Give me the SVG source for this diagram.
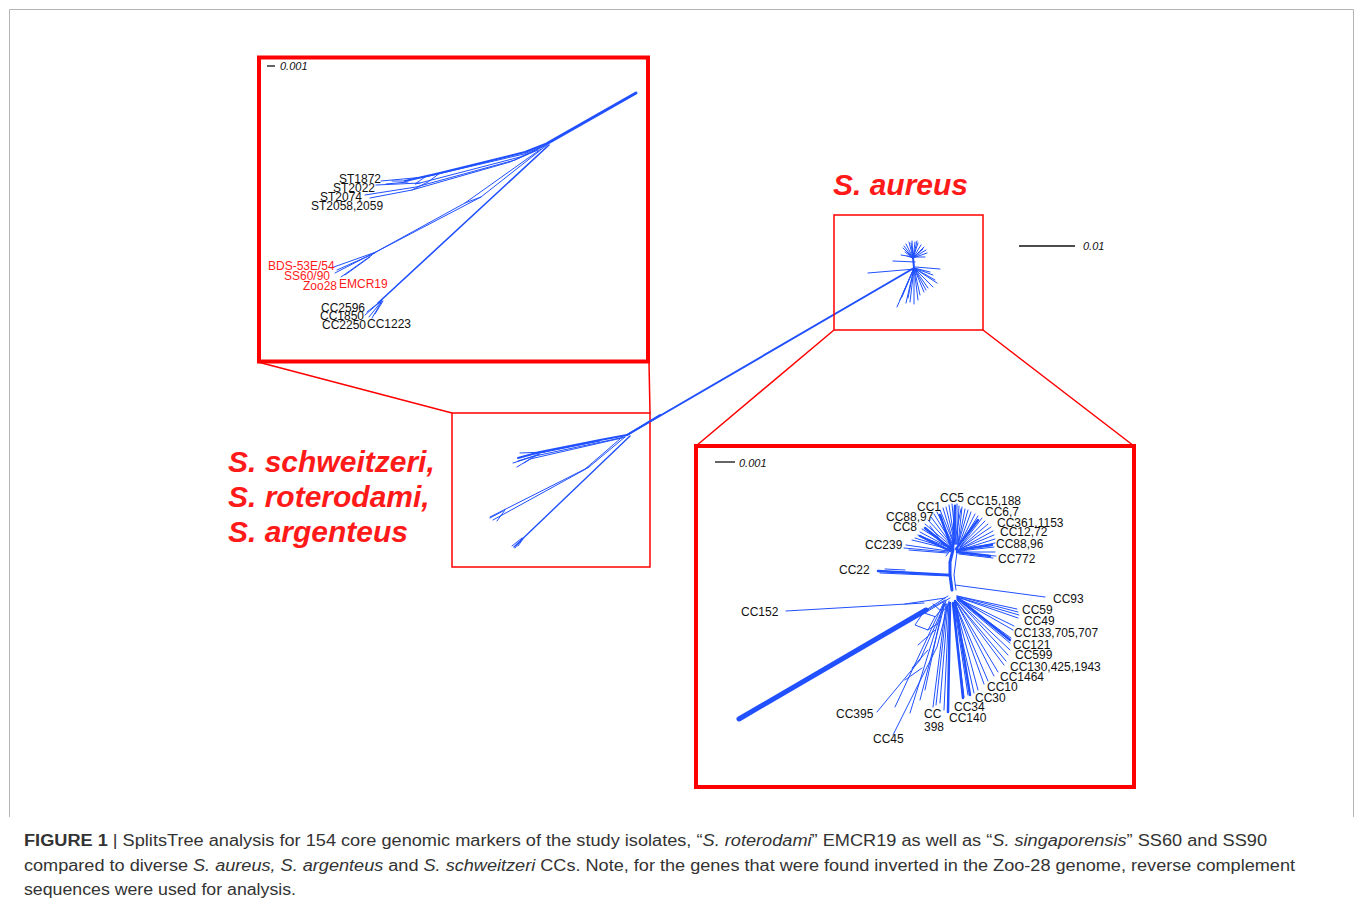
<svg xmlns="http://www.w3.org/2000/svg" width="1355" height="903" viewBox="0 0 1355 903">
<style>
.frame{fill:none;stroke:#b4b4b4;stroke-width:1}
.rk{fill:none;stroke:#ff0000;stroke-width:4}
.rt{fill:none;stroke:#ff0000;stroke-width:1.5}
.b{fill:none;stroke:#2050ff;stroke-width:1;stroke-linecap:round;stroke-linejoin:round}
.b2{fill:none;stroke:#2050ff;stroke-width:2;stroke-linecap:round}
.b3{fill:none;stroke:#2050ff;stroke-width:3;stroke-linecap:round}
.lbl{font-family:"Liberation Sans",Arial,sans-serif;font-size:12px;fill:#111}
.lr{font-family:"Liberation Sans",Arial,sans-serif;font-size:12px;fill:#ff1a1a}
.sc{font-family:"Liberation Sans",Arial,sans-serif;font-size:11px;font-style:italic;fill:#111}
.sp{font-family:"Liberation Sans",Arial,sans-serif;font-size:30px;font-weight:bold;font-style:italic;fill:#ff1a1a}
.cap{font-family:"Liberation Sans",Arial,sans-serif;font-size:16px;fill:#333}
</style>
<rect width="1355" height="903" fill="#fff"/>
<path class="frame" d="M9.5,817 V9.5 H1353.5 V817"/>

<g id="connectors">
<path class="rt" d="M258,362 L452,413 M649,362 L650,413 M834,330 L696,446 M983,330 L1134,446"/>
<path class="b2" d="M627,435 L914,268"/>
</g>

<g id="inset-top-left">
<rect class="rk" x="259" y="57.5" width="389" height="304"/>
<path d="M267,66 H275" stroke="#111" stroke-width="1.3"/>
<text class="sc" x="280" y="70">0.001</text>
<path class="b3" d="M636,93 L548,143"/>
<path class="b2" d="M548,143 L525,152 L440,173 L405,181"/>
<path class="b" d="M548,144 L524,154 L425,177 L381,181 M545,146 L520,157 L420,183 L376,185 M540,148 L515,160 L416,187 L365,195 M538,150 L510,162 L412,190 L370,198 M425,177 L415,184 L420,183 M440,173 L428,182 L412,190 M405,181 L392,181 M408,182 L386,184"/>
<path class="b" d="M547,145 L481,197 L376,252 M541,149 L465,203 L374,253 M481,197 L465,203 M376,252 L331,268 M374,253 L335,273 M372,255 L341,277 M375,253 L337,270 M370,257 L345,275"/>
<path class="b" style="stroke-width:1.6" d="M549,145 L378,303"/>
<path class="b" d="M382,300 L367,312 M380,302 L365,315 M381,302 L369,317 M382,301 L372,318 M383,301 L375,314"/>
<text class="lbl" x="339" y="183">ST1872</text>
<text class="lbl" x="333" y="192">ST2022</text>
<text class="lbl" x="320" y="201">ST2074</text>
<text class="lbl" x="311" y="210">ST2058,2059</text>
<text class="lr" x="268" y="270">BDS-53E/54</text>
<text class="lr" x="284" y="280">SS60/90</text>
<text class="lr" x="303" y="290">Zoo28</text>
<text class="lr" x="339" y="288">EMCR19</text>
<text class="lbl" x="321" y="312">CC2596</text>
<text class="lbl" x="320" y="320">CC1850</text>
<text class="lbl" x="322" y="329">CC2250</text>
<text class="lbl" x="367" y="328">CC1223</text>
</g>

<g id="box-middle">
<rect class="rt" x="452" y="413" width="198" height="154"/>
<path class="b2" d="M660,415 L627,435 L600,440 L540,452 L518,458"/>
<path class="b" d="M625,437 L535,456 L513,463 M622,438 L530,459 L517,467 M545,452 L520,453 M540,454 L518,461 M537,455 L524,463 M600,441 L535,454"/>
<path class="b" d="M625,437 L589,467 L490,517 M620,439 L584,470 L493,520 M589,467 L584,470 M505,510 L497,521 M503,511 L490,518"/>
<path class="b" style="stroke-width:1.4" d="M630,436 L514,547"/>
<path class="b" d="M522,538 L512,546 M522,539 L515,548 M523,539 L518,546"/>
</g>

<g id="label-left">
<text class="sp" x="228" y="472">S. schweitzeri,</text>
<text class="sp" x="228" y="507">S. roterodami,</text>
<text class="sp" x="228" y="542">S. argenteus</text>
</g>

<g id="box-aureus">
<text class="sp" x="833" y="195">S. aureus</text>
<rect class="rt" x="834" y="215" width="149" height="115"/>
<path d="M1019,246 H1075" stroke="#111" stroke-width="1.5"/>
<text class="sc" x="1083" y="250">0.01</text>
<path class="b2" d="M914,268 L913,257"/>
<path class="b" d="M913,258 L903,248 M913,258 L905,252 M913,258 L906,244 M913,258 L909,242 M913,258 L912,241 M913,258 L915,242 M913,258 L918,243 M913,258 L921,245 M913,258 L924,247 M913,258 L926,250 M913,258 L927,253 M913,258 L907,256 M913,257 L901,255 M913,257 L925,257 M913,258 L904,246 M913,258 L911,243 M913,258 L917,241 M913,258 L923,249"/>
<path class="b" d="M893,261 L915,262 M868,273 L915,269 M915,267 L940,269"/>
<path class="b" d="M914,268 L897,307 M914,268 L902,297 M914,268 L910,302 M914,268 L918,300 M914,268 L920,295 M914,268 L928,288 M914,268 L933,287 M914,268 L935,280 M914,268 L933,275 M914,268 L930,272 M914,268 L906,303 M914,268 L914,304 M914,268 L924,292 M914,268 L900,300 M914,268 L937,283 M914,268 L908,298 M914,268 L926,290"/>
</g>

<g id="inset-bottom-right">
<rect class="rk" x="696" y="446" width="438" height="341"/>
<path d="M715,462 H735" stroke="#111" stroke-width="1.3"/>
<text class="sc" x="739" y="467">0.001</text>
<path class="b" d="M948,551 L906,545 M948,552 L904,548 M947,553 L909,550 M949,549 L912,540 M950,548 L918,535 M950,548 L920,532 M951,547 L922,529 M951,546 L925,524 M952,546 L928,520 M952,545 L931,517 M953,545 L934,514 M953,544 L937,512 M954,544 L940,510 M954,544 L943,508 M955,544 L946,507 M955,544 L949,505 M956,544 L952,504 M956,544 L955,505 M957,544 L957,504 M957,544 L959,506 M958,544 L962,507 M958,545 L965,509 M958,545 L968,510 M959,545 L971,512 M959,546 L975,514 M959,546 L978,516 M960,547 L982,518 M960,547 L985,521 M960,548 L988,524 M960,548 L991,527 M960,549 L993,531 M960,549 L994,535 M960,550 L995,539 M960,550 L995,543 M960,551 L994,547 M960,552 L995,552 M960,553 L996,556 M959,554 L993,558 M944,547 L915,538 M945,546 L930,526 M955,540 L961,509"/>
<path class="b3" style="stroke-width:2.5" d="M952,550 L925,528 M953,549 L955,506 M952,549 L940,515 M957,550 L992,545 M957,552 L990,556 M950,551 L920,536 M956,549 L978,520"/>
<path class="b3" d="M953,550 L950,562 L950,575 L952,590"/>
<path class="b" d="M957,552 L954,575 L956,590 M950,576 L880,573 M905,570 L885,569 M946,556 L952,548"/>
<path class="b3" style="stroke-width:2.5" d="M950,575 L878,571"/>
<path class="b" d="M955,585 L1045,597 M786,611 L924,603 M905,604 L945,598"/>
<path class="b" d="M957,596 L1017,609 M957,596 L1018,612 M957,597 L1019,615 M957,597 L1018,618 M957,598 L1014,626 M957,598 L1013,630 M957,599 L1011,638 M957,599 L1010,643 M957,600 L1010,650 M957,600 L1008,655 M956,601 L1006,661 M956,601 L1004,665 M956,602 L998,672 M956,602 L994,676 M955,603 L988,681 M955,603 L984,684 M955,604 L978,690 M954,604 L974,693 M954,604 L968,695 M953,605 L964,697"/>
<path class="b3" style="stroke-width:2.5" d="M955,601 L970,695 M953,603 L963,698 M950,603 L948,712 M958,598 L1010,640"/>
<path class="b" d="M949,604 L944,710 M948,604 L940,703 M947,604 L936,705 M946,604 L933,707 M945,603 L920,700 M944,603 L910,713 M944,602 L895,707 M946,601 L920,660 L877,712 M949,601 L937,647 L893,735 M943,605 L925,690 M935,630 L918,645 M928,650 L912,668 M922,668 L905,680"/>
<path class="b3" style="stroke-width:5" d="M739,719 L926,610"/>
<path class="b" d="M926,610 L948,596 M924,612 L945,600 M928,611 L950,598 M923,613 L915,625 L928,630 L935,617 Z M935,617 L946,604 M928,630 L940,622 M933,604 L942,612 L950,603"/>
<text class="lbl" x="940" y="502">CC5</text>
<text class="lbl" x="917" y="511">CC1</text>
<text class="lbl" x="967" y="505">CC15,188</text>
<text class="lbl" x="985" y="516">CC6,7</text>
<text class="lbl" x="886" y="521">CC88,97</text>
<text class="lbl" x="893" y="531">CC8</text>
<text class="lbl" x="997" y="527">CC361,1153</text>
<text class="lbl" x="1000" y="536">CC12,72</text>
<text class="lbl" x="865" y="549">CC239</text>
<text class="lbl" x="996" y="548">CC88,96</text>
<text class="lbl" x="998" y="563">CC772</text>
<text class="lbl" x="839" y="574">CC22</text>
<text class="lbl" x="1053" y="603">CC93</text>
<text class="lbl" x="741" y="616">CC152</text>
<text class="lbl" x="1022" y="614">CC59</text>
<text class="lbl" x="1024" y="625">CC49</text>
<text class="lbl" x="1014" y="637">CC133,705,707</text>
<text class="lbl" x="1013" y="649">CC121</text>
<text class="lbl" x="1015" y="659">CC599</text>
<text class="lbl" x="1010" y="671">CC130,425,1943</text>
<text class="lbl" x="1000" y="681">CC1464</text>
<text class="lbl" x="987" y="691">CC10</text>
<text class="lbl" x="975" y="702">CC30</text>
<text class="lbl" x="954" y="711">CC34</text>
<text class="lbl" x="949" y="722">CC140</text>
<text class="lbl" x="924" y="718">CC</text>
<text class="lbl" x="924" y="731">398</text>
<text class="lbl" x="836" y="718">CC395</text>
<text class="lbl" x="873" y="743">CC45</text>
</g>

<g id="caption">
<text class="cap" x="24" y="846" textLength="1243" lengthAdjust="spacingAndGlyphs"><tspan font-weight="bold">FIGURE 1</tspan> | SplitsTree analysis for 154 core genomic markers of the study isolates, “<tspan font-style="italic">S. roterodami</tspan>” EMCR19 as well as “<tspan font-style="italic">S. singaporensis</tspan>” SS60 and SS90</text>
<text class="cap" x="24" y="871" textLength="1271" lengthAdjust="spacingAndGlyphs">compared to diverse <tspan font-style="italic">S. aureus, S. argenteus</tspan> and <tspan font-style="italic">S. schweitzeri</tspan> CCs. Note, for the genes that were found inverted in the Zoo-28 genome, reverse complement</text>
<text class="cap" x="24" y="895" textLength="272" lengthAdjust="spacingAndGlyphs">sequences were used for analysis.</text>
</g>
</svg>
